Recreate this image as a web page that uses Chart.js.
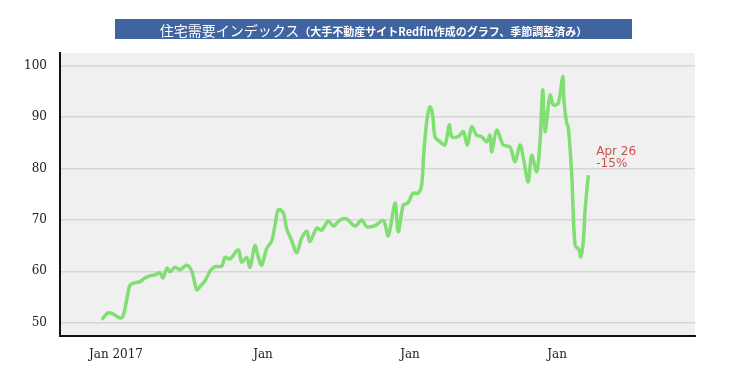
<!DOCTYPE html>
<html lang="ja">
<head>
<meta charset="utf-8">
<script src="https://cdn.jsdelivr.net/npm/chart.js@4.4.1/dist/chart.umd.min.js"></script>
<style>
  body { margin: 0; background: #fff; }
  #quadro { position: relative; width: 750px; height: 375px; }
  #titulo {
    position: absolute; left: 115px; top: 19px; width: 517px; height: 20px;
    background: #4064a0; color: #fff; text-align: center;
    font-family: "Noto Sans CJK JP", sans-serif; line-height: 20px; white-space: nowrap;
  }
  #titulo .grande { font-size: 14px; }
  #titulo .menor { font-size: 11px; font-weight: bold; }
</style>
</head>
<body>
<div id="quadro">
  <canvas id="grafico" width="750" height="375"></canvas>
  <div id="titulo"><span class="grande">住宅需要インデックス</span><span class="menor">（大手不動産サイトRedfin作成のグラフ、季節調整済み）</span></div>
</div>
<script>
// ---------- Dados (mês desde jan/2017, valor do índice) ----------
const meses = [0.24, 0.73, 1.14, 1.71, 1.96, 2.26, 2.53, 2.94, 3.35, 3.76, 4.16, 4.57, 4.98, 5.22, 5.55, 5.80,
  6.20, 6.61, 7.18, 7.59, 7.98, 8.24, 8.65, 9.06, 9.47, 10.02, 10.29, 10.69, 11.37, 11.65, 12.06, 12.33,
  12.73, 13.00, 13.28, 13.69, 14.10, 14.37, 14.64, 15.04, 15.32, 15.73, 16.14, 16.55, 16.96, 17.22, 17.77,
  18.18, 18.72, 19.13, 19.67, 20.22, 20.90, 21.44, 21.85, 22.53, 23.21, 23.62, 24.16, 24.43, 24.84, 25.22,
  25.63, 26.04, 26.34, 26.50, 26.75, 27.02, 27.24, 27.43, 27.84, 28.24, 28.60, 28.79, 29.33, 29.74, 30.07,
  30.42, 30.83, 31.24, 31.65, 31.92, 32.06, 32.47, 33.00, 33.55, 33.96, 34.37, 34.64, 35.04, 35.32, 35.73,
  36.00, 36.22, 36.41, 36.82, 37.09, 37.49, 37.85, 37.96, 38.18, 38.31, 38.59, 38.86, 39.21, 39.32, 39.53,
  39.67, 39.94];
const indice = [50.6, 51.9, 51.7, 50.9, 51.2, 54.4, 57.3, 57.8, 58.0, 58.7, 59.1, 59.3, 59.7, 58.7, 60.6, 59.9,
  60.8, 60.3, 61.2, 59.9, 56.4, 57.0, 58.1, 60.0, 60.9, 61.0, 62.7, 62.4, 64.2, 61.8, 62.7, 60.8,
  65.0, 62.8, 61.2, 64.4, 65.9, 69.0, 72.0, 71.4, 68.3, 66.0, 63.6, 66.5, 67.8, 65.8, 68.4,
  68.0, 69.8, 68.8, 70.0, 70.2, 68.8, 70.0, 68.7, 68.9, 69.9, 66.9, 73.3, 67.7, 72.9, 73.3,
  75.2, 75.2, 76.8, 82.6, 89.1, 92.0, 90.4, 86.2, 85.2, 84.6, 88.5, 86.2, 86.2, 87.2, 84.6,
  88.1, 86.5, 86.2, 85.2, 86.5, 83.3, 87.5, 84.6, 84.2, 81.3, 84.6, 82.0, 77.4, 82.6, 79.4,
  85.2, 95.3, 87.2, 94.3, 92.4, 92.7, 97.9, 93.0, 88.8, 88.1, 78.7, 65.1, 64.1, 62.8, 65.8,
  71.6, 78.7];

const ticksY = [50, 60, 70, 80, 90, 100];
const ticksX = [0, 12, 24, 36];
const rotulosX = ['Jan 2017', 'Jan', 'Jan', 'Jan'];
const anotacao = ['Apr 26', '-15%'];

// ---------- Plugins ----------
const fundoPlugin = {
  id: 'fundo',
  beforeDraw(chart) {
    const { ctx, chartArea: a } = chart;
    ctx.save();
    ctx.fillStyle = '#f0f0f0';
    ctx.fillRect(a.left, a.top, a.right - a.left, a.bottom - a.top);
    ctx.restore();
  }
};

// texto "Apr 26 / -15%" ao lado do último ponto
const anotacaoPlugin = {
  id: 'anotacao',
  afterDatasetsDraw(chart) {
    const pts = chart.getDatasetMeta(0).data;
    const p = pts[pts.length - 1];
    const ctx = chart.ctx;
    ctx.save();
    ctx.fillStyle = '#c8524f';
    ctx.font = '12px "DejaVu Sans"';
    ctx.fillText(anotacao[0], p.x + 8, p.y - 20);
    ctx.fillText(anotacao[1], p.x + 8, p.y - 8);
    ctx.restore();
  }
};

// ---------- Gráfico ----------
const ctx = document.getElementById('grafico').getContext('2d');
new Chart(ctx, {
  type: 'line',
  data: {
    datasets: [{
      data: meses.map((m, i) => ({ x: m, y: indice[i] })),
      borderColor: '#80de72',
      borderWidth: 3.5,
      pointRadius: 0,
      tension: 0.3,
      fill: false
    }]
  },
  options: {
    responsive: false,
    animation: false,
    layout: { padding: { top: 53, right: 55, left: 0, bottom: 0 } },
    plugins: { legend: { display: false }, tooltip: { enabled: false } },
    scales: {
      x: {
        type: 'linear',
        min: -3.18,
        max: 48.65,
        afterFit: s => { s.height = 39; },
        afterBuildTicks: s => { s.ticks = ticksX.map(v => ({ value: v })); },
        grid: { display: false },
        border: { display: true, color: '#111', width: 2 },
        ticks: {
          padding: 4,
          labelOffset: 17,
          maxRotation: 0,
          autoSkip: false,
          color: '#222',
          font: { family: 'DejaVu Serif', size: 12 },
          callback: (v) => rotulosX[ticksX.indexOf(v)]
        }
      },
      y: {
        min: 47.4,
        max: 102.5,
        afterFit: s => { s.width = 60; },
        afterBuildTicks: s => { s.ticks = ticksY.map(v => ({ value: v })); },
        grid: { color: '#d6d6d6', lineWidth: 1.5, drawTicks: false },
        border: { display: true, color: '#111', width: 2 },
        ticks: {
          padding: 13,
          color: '#222',
          font: { family: 'DejaVu Serif', size: 12 }
        }
      }
    }
  },
  plugins: [fundoPlugin, anotacaoPlugin]
});
</script>
</body>
</html>
